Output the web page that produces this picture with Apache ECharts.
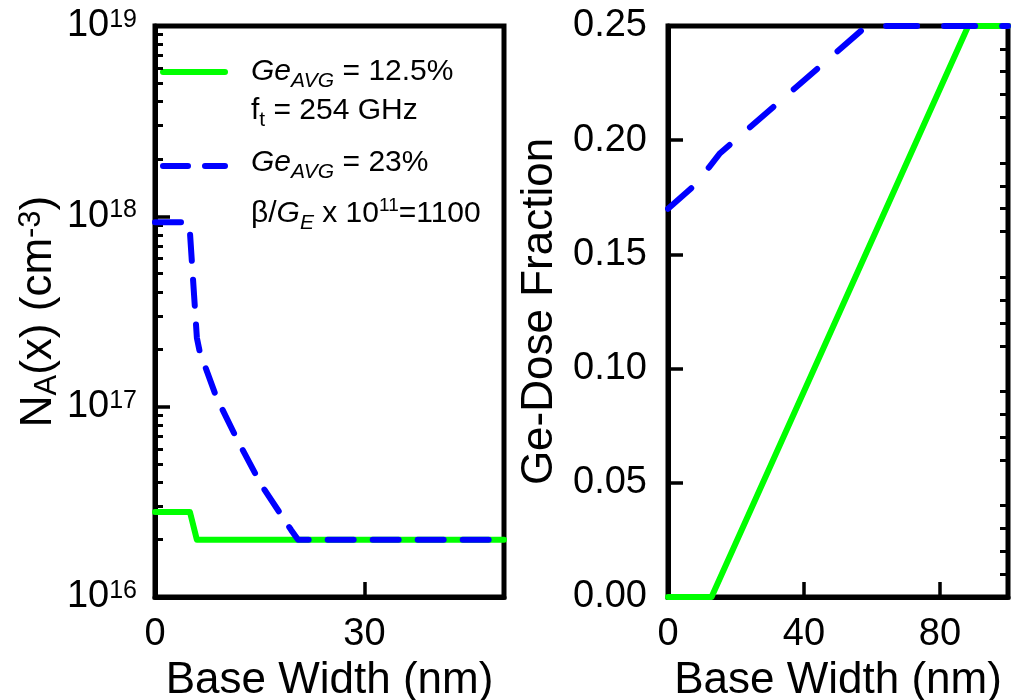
<!DOCTYPE html>
<html>
<head>
<meta charset="utf-8">
<title>Base doping and Ge-dose profiles</title>
<script src="https://cdn.jsdelivr.net/npm/echarts@6/dist/echarts.min.js"></script>
<style>
  html, body { margin: 0; padding: 0; background: #fff; }
  #chart { width: 1011px; height: 700px; }
</style>
</head>
<body>
<div id="chart"></div>
<script>
// ---- Left panel: acceptor doping N_A(x) across the base (cm^-3) ----
const dopingX12 = [0, 5.0, 6.0, 50];
const dopingNA12 = [2.8e16, 2.8e16, 2.0e16, 2.0e16];
const dopingX23 = [0, 4.6, 5.0, 6.0, 6.4, 8.8, 11.7, 15.2, 19.5, 20.5, 50];
const dopingNA23 = [9.3e17, 9.3e17, 8.3e17, 2.3e17, 1.95e17, 1.12e17, 6.8e16, 3.9e16, 2.25e16, 2.0e16, 2.0e16];

// ---- Right panel: Ge-dose fraction across the base ----
const geX12 = [0, 12.8, 88.3, 100];
const geFrac12 = [0, 0, 0.25, 0.25];
const geX23 = [0, 8, 12, 15.3, 58.4, 100];
const geFrac23 = [0.170, 0.1805, 0.188, 0.1943, 0.25, 0.25];

// ---- Axis ranges and tick steps ----
const leftXRange = [0, 50];
const leftXStep = 30;
const leftYRange = [1e16, 1e19];
const rightXRange = [0, 100];
const rightXStep = 40;
const rightYRange = [0, 0.25];
const rightYStep = 0.05;

const FONT = '"Liberation Sans", Arial, Helvetica, sans-serif';
const GREEN = '#00ff00';
const BLUE = '#0000ff';

const pairs = (xs, ys) => xs.map((x, i) => [x, ys[i]]);

// log-decade minor ticks (2..9 x 10^n), expressed as log10 positions
const logMinor = [];
for (let n = Math.log10(leftYRange[0]); n < Math.log10(leftYRange[1]); n++) {
  for (let k = 2; k <= 9; k++) logMinor.push(n + Math.log10(k));
}
// 0.01 minor steps on the right-hand frame of the Ge panel
const fracMinor = [];
for (let i = 1; i < 25; i++) if (i % 5 !== 0) fracMinor.push(i / 100);

const tickLabel = { color: '#000', fontFamily: FONT, fontSize: 38 };
const nameStyle = { color: '#000', fontFamily: FONT, fontSize: 44, lineHeight: 44 };
const axisLine = { show: true, lineStyle: { color: '#000', width: 5 } };
const majorTick = { show: true, inside: true, length: 15, lineStyle: { color: '#000', width: 3.5 } };

const legendRich = {
  n: { fontFamily: FONT, fontSize: 30, lineHeight: 30, color: '#000' },
  it: { fontFamily: FONT, fontSize: 30, lineHeight: 30, color: '#000', fontStyle: 'italic' },
  sub: { fontFamily: FONT, fontSize: 21, lineHeight: 21, color: '#000', fontStyle: 'italic', padding: [18, 0, 0, 0] },
  subn: { fontFamily: FONT, fontSize: 21, lineHeight: 21, color: '#000', padding: [18, 0, 0, 0] },
  sup: { fontFamily: FONT, fontSize: 19, lineHeight: 19, color: '#000', padding: [0, 0, 16, 0] }
};

const option = {
  animation: false,
  backgroundColor: '#fff',
  grid: [
    { left: 155, top: 26, width: 349, height: 571, show: true, borderColor: '#000', borderWidth: 5, outerBoundsMode: 'none', containLabel: false },
    { left: 668, top: 26, width: 340, height: 571, show: true, borderColor: '#000', borderWidth: 5, outerBoundsMode: 'none', containLabel: false }
  ],
  xAxis: [
    {
      gridIndex: 0, type: 'value', min: leftXRange[0], max: leftXRange[1], interval: leftXStep,
      axisLine: axisLine, axisTick: majorTick, splitLine: { show: false },
      axisLabel: Object.assign({ margin: 19, showMaxLabel: false, lineHeight: 38 }, tickLabel),
      name: 'Base Width (nm)', nameLocation: 'middle', nameGap: 54, nameTextStyle: nameStyle
    },
    {
      gridIndex: 1, type: 'value', min: rightXRange[0], max: rightXRange[1], interval: rightXStep,
      axisLine: axisLine, axisTick: majorTick, splitLine: { show: false },
      axisLabel: Object.assign({ margin: 19, showMaxLabel: false, lineHeight: 38 }, tickLabel),
      name: 'Base Width (nm)', nameLocation: 'middle', nameGap: 54, nameTextStyle: nameStyle
    }
  ],
  yAxis: [
    {
      gridIndex: 0, type: 'log', min: leftYRange[0], max: leftYRange[1], logBase: 10,
      axisLine: axisLine, axisTick: majorTick, splitLine: { show: false },
      axisLabel: {
        margin: 18,
        formatter: v => '{b|10}{s|' + Math.round(Math.log10(v)) + '}',
        rich: {
          b: { fontFamily: FONT, fontSize: 38, lineHeight: 38, color: '#000' },
          s: { fontFamily: FONT, fontSize: 25, lineHeight: 25, color: '#000', padding: [0, 0, 12, 0] }
        }
      },
      name: '{n|N}{sub|A}{n|(x) (cm}{sup|-3}{n|)}',
      nameLocation: 'middle', nameRotate: 90, nameGap: 94,
      nameTextStyle: {
        rich: {
          n: { fontFamily: FONT, fontSize: 44, lineHeight: 44, color: '#000' },
          sub: { fontFamily: FONT, fontSize: 31, lineHeight: 31, color: '#000', padding: [16, 0, 0, 0] },
          sup: { fontFamily: FONT, fontSize: 31, lineHeight: 31, color: '#000', padding: [0, 0, 16, 0] }
        }
      }
    },
    {
      // minor decade ticks for the log axis, on a log10 scale spanning the same range
      gridIndex: 0, type: 'value', position: 'left',
      min: Math.log10(leftYRange[0]), max: Math.log10(leftYRange[1]),
      axisLine: { show: false }, axisLabel: { show: false }, splitLine: { show: false },
      axisTick: { show: true, inside: true, length: 8, customValues: logMinor, lineStyle: { color: '#000', width: 3 } }
    },
    {
      gridIndex: 1, type: 'value', min: rightYRange[0], max: rightYRange[1], interval: rightYStep,
      axisLine: axisLine, axisTick: majorTick, splitLine: { show: false },
      axisLabel: Object.assign({ margin: 21, formatter: v => v.toFixed(2) }, tickLabel),
      name: 'Ge-Dose Fraction', nameLocation: 'middle', nameRotate: 90, nameGap: 106, nameTextStyle: nameStyle
    },
    {
      gridIndex: 1, type: 'value', position: 'right', min: rightYRange[0], max: rightYRange[1],
      axisLine: { show: false }, axisLabel: { show: false }, splitLine: { show: false },
      axisTick: { show: true, inside: true, length: 8, customValues: fracMinor, lineStyle: { color: '#000', width: 3 } }
    }
  ],
  series: [
    {
      type: 'line', xAxisIndex: 0, yAxisIndex: 0, data: pairs(dopingX12, dopingNA12),
      showSymbol: false, symbol: 'none', clip: false,
      lineStyle: { color: GREEN, width: 6, cap: 'round', join: 'round' }
    },
    {
      type: 'line', xAxisIndex: 0, yAxisIndex: 0, data: pairs(dopingX23, dopingNA23),
      showSymbol: false, symbol: 'none', clip: false,
      lineStyle: { color: BLUE, width: 6, type: [26, 19], cap: 'round', join: 'round' }
    },
    {
      type: 'line', xAxisIndex: 1, yAxisIndex: 2, data: pairs(geX12, geFrac12),
      showSymbol: false, symbol: 'none', clip: false,
      lineStyle: { color: GREEN, width: 6, cap: 'round', join: 'round' }
    },
    {
      type: 'line', xAxisIndex: 1, yAxisIndex: 2, data: pairs(geX23, geFrac23),
      showSymbol: false, symbol: 'none', clip: false,
      lineStyle: { color: BLUE, width: 6, type: [31, 27], cap: 'round', join: 'round' }
    }
  ],
  graphic: [
    { type: 'line', shape: { x1: 163, y1: 72, x2: 225, y2: 72 }, style: { stroke: GREEN, lineWidth: 6, lineCap: 'round' } },
    { type: 'text', x: 251, y: 72, style: { text: '{it|Ge}{sub|AVG}{n| = 12.5%}', rich: legendRich, verticalAlign: 'middle' } },
    { type: 'text', x: 251, y: 111, style: { text: '{n|f}{subn|t}{n| = 254 GHz}', rich: legendRich, verticalAlign: 'middle' } },
    { type: 'line', shape: { x1: 163, y1: 166, x2: 225, y2: 166 }, style: { stroke: BLUE, lineWidth: 6, lineCap: 'round', lineDash: [25, 17] } },
    { type: 'text', x: 251, y: 163, style: { text: '{it|Ge}{sub|AVG}{n| = 23%}', rich: legendRich, verticalAlign: 'middle' } },
    { type: 'text', x: 251, y: 214, style: { text: '{n|β/}{it|G}{sub|E}{n| x 10}{sup|11}{n|=1100}', rich: legendRich, verticalAlign: 'middle' } }
  ]
};

const chart = echarts.init(document.getElementById('chart'), null, { renderer: 'canvas' });
chart.setOption(option);
</script>
</body>
</html>
